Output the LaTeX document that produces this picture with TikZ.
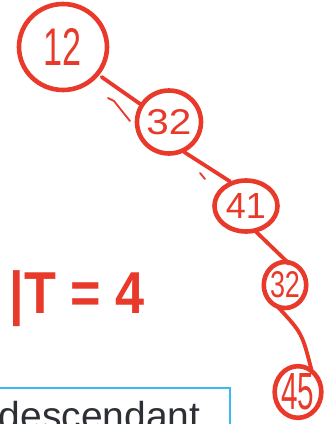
\documentclass[tikz,border=0pt]{standalone}
\usepackage{fontspec}
\setmainfont{Liberation Sans}
\usetikzlibrary{shapes.geometric}
\definecolor{ink}{HTML}{E8392B}
\definecolor{boxblue}{HTML}{3DB8F0}
\definecolor{txt}{HTML}{2C2F33}
\newcommand\hwtxt[3]{\resizebox{#1}{#2}{#3}}
\begin{document}
\begin{tikzpicture}[x=1pt,y=-1pt,
  vert/.style={ellipse, draw=ink, line width=4.6pt, inner sep=0pt, text=ink},
  edgeline/.style={draw=ink, line width=3.8pt, line cap=round},
  stray/.style={draw=ink, line width=1.8pt, line cap=round}]
\useasboundingbox (0,0) rectangle (324,424);
\clip (0,0) rectangle (324,424);
\fill[white] (0,0) rectangle (324,424);
% vertices
\node[vert, minimum width=88, minimum height=86] (n12) at (63,47) {\hwtxt{38pt}{37pt}{12}};
\node[vert, minimum width=64, minimum height=63] (n32) at (169,122) {\hwtxt{45pt}{25pt}{32}};
\node[vert, minimum width=63, minimum height=51] (n41) at (246,206) {\hwtxt{40pt}{25pt}{41}};
\node[vert, minimum width=41, minimum height=46] (n32b) at (285,285) {\hwtxt{30pt}{26pt}{32}};
\node[vert, minimum width=46, minimum height=50] (n45) at (298,392) {\hwtxt{33pt}{36pt}{45}};
% edges
\draw[edgeline, shorten <=3pt] (n12.-38) -- (n32.148);
\draw[edgeline] (n32.-63) -- (n41.123);
\draw[edgeline, shorten <=-2pt, shorten >=-6pt] (n41.-68) -- (n32b.90);
\draw[edgeline, shorten <=-4pt, shorten >=-2pt] (n32b.-100) .. controls (302,333) .. (n45.62);
% stray pen marks
\draw[stray] (108,98) -- (114,101) -- (130,121);
\draw[stray] (200,173) -- (205,179);
% formula
\node[text=ink, anchor=center] (eq) at (77,299) {\resizebox*{135pt}{56pt}{\textbf{|T = 4}}};
% box
\node[draw=boxblue, line width=1.6pt, anchor=north west, text width=229pt, align=left,
  inner xsep=2pt, inner ysep=13.5pt, text height=28.5pt, text=txt,
  font=\fontsize{39}{39}\selectfont] (desc) at (-4,387) {descendant};
\end{tikzpicture}
\end{document}
